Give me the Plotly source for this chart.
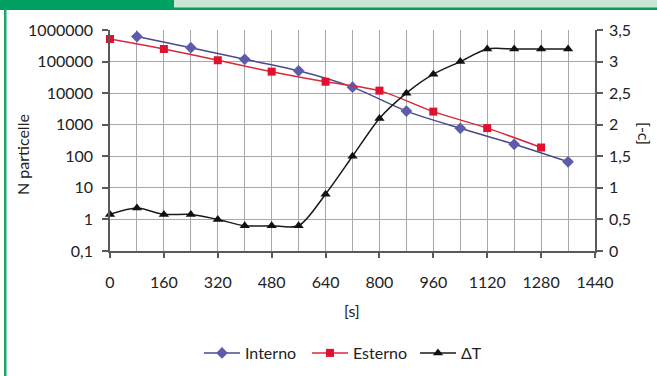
import plotly.graph_objects as go

# ---- data ----
x_interno = [80, 240, 400, 560, 720, 880, 1040, 1200, 1360]
interno = [620000, 275000, 118000, 51000, 15500, 2700, 770, 240, 67]

x_esterno = [0, 160, 320, 480, 640, 800, 960, 1120, 1280]
esterno = [520000, 250000, 110000, 48000, 23000, 12000, 2600, 780, 190]

x_dt = [0, 80, 160, 240, 320, 400, 480, 560, 640, 720, 800, 880, 960, 1040, 1120, 1200, 1280, 1360]
delta_t = [0.58, 0.68, 0.58, 0.58, 0.50, 0.40, 0.40, 0.40, 0.90, 1.50, 2.10, 2.50, 2.80, 3.00, 3.20, 3.20, 3.20, 3.20]

x_ticks = [0, 160, 320, 480, 640, 800, 960, 1120, 1280, 1440]
y_ticks = [0.1, 1, 10, 100, 1000, 10000, 100000, 1000000]
y_tick_text = ["0,1", "1", "10", "100", "1000", "10000", "100000", "1000000"]
y2_ticks = [0, 0.5, 1, 1.5, 2, 2.5, 3, 3.5]
y2_tick_text = ["0", "0,5", "1", "1,5", "2", "2,5", "3", "3,5"]

W, H = 657, 376
L, R, T, B = 110, 595, 30, 251


def px(xp):
    return (xp - L) / (R - L)


def py(yp):
    return (B - yp) / (B - T)


FONT = "Lato"
GRID = "#a8a8a8"
AXIS = "#5a5a5a"

fig = go.Figure()
fig.add_trace(go.Scatter(
    x=x_interno, y=interno, name="Interno", mode="lines+markers",
    line=dict(color="#4a4a8c", width=1.5, shape="spline", smoothing=0.8),
    marker=dict(symbol="diamond", size=9, color="#5c5cab"),
    cliponaxis=False))
fig.add_trace(go.Scatter(
    x=x_esterno, y=esterno, name="Esterno", mode="lines+markers",
    line=dict(color="#d8283c", width=1.5, shape="spline", smoothing=0.8),
    marker=dict(symbol="square", size=8, color="#e0102f"),
    cliponaxis=False))
fig.add_trace(go.Scatter(
    x=x_dt, y=delta_t, name="ΔT", mode="lines+markers", yaxis="y2",
    line=dict(color="#1a1a1a", width=1.5, shape="spline", smoothing=0.8),
    marker=dict(symbol="triangle-up", size=9, color="#111111"),
    cliponaxis=False))

fig.update_layout(
    width=W, height=H,
    margin=dict(l=L, r=W - R, t=T, b=H - B, pad=0, autoexpand=False),
    paper_bgcolor="white", plot_bgcolor="white",
    font=dict(family=FONT, size=16, color="#222222"),
    showlegend=True,
    legend=dict(orientation="h", x=(203 - 4) / W, xanchor="left", xref="container",
                y=(H - 353) / H, yanchor="middle", yref="container",
                font=dict(size=16), itemwidth=36, tracegroupgap=0,
                entrywidth=57, entrywidthmode="pixels"),
    xaxis=dict(range=[0, 1440], tickvals=x_ticks, ticks="outside", ticklen=5,
               tickcolor=AXIS, tickwidth=1.5, automargin=False,
               showline=True, linecolor=AXIS, linewidth=1.5,
               showgrid=True, gridcolor=GRID, gridwidth=1.3,
               minor=dict(dtick=80, tick0=0, showgrid=True, gridcolor=GRID, gridwidth=1.3),
               ticklabelstandoff=11, zeroline=False),
    yaxis=dict(type="log", range=[-1, 6], tickvals=y_ticks, ticktext=y_tick_text,
               ticks="outside", ticklen=6, tickcolor=AXIS, tickwidth=1.5, automargin=False,
               showline=True, linecolor=AXIS, linewidth=1.5,
               showgrid=True, gridcolor=GRID, gridwidth=1.3,
               ticklabelstandoff=6, zeroline=False),
    yaxis2=dict(overlaying="y", side="right", range=[0, 3.5], tickvals=y2_ticks,
                ticktext=y2_tick_text, ticks="outside", ticklen=6, tickcolor=AXIS,
                tickwidth=1.5, showline=True, linecolor=AXIS, linewidth=1.5, automargin=False,
                showgrid=False, zeroline=False, ticklabelstandoff=3),
)

# axis titles
fig.add_annotation(text="N particelle", x=px(22), y=py(155), xref="paper", yref="paper",
                   xanchor="center", yanchor="middle",
                   showarrow=False, textangle=-90, font=dict(size=16, family=FONT))
fig.add_annotation(text="[s]", x=px(352), y=py(310), xref="paper", yref="paper",
                   xanchor="center", yanchor="middle",
                   showarrow=False, font=dict(size=16, family=FONT))
fig.add_annotation(text="[-c]", x=px(645), y=py(133), xref="paper", yref="paper",
                   xanchor="center", yanchor="middle",
                   showarrow=False, textangle=90, font=dict(size=16, family=FONT))

# decorative frame
shapes = [
    dict(type="rect", x0=px(0), x1=px(174), y0=py(10), y1=py(0), fillcolor="#00a062", line_width=0),
    dict(type="rect", x0=px(174), x1=px(657), y0=py(8), y1=py(0), fillcolor="#c8e6d3", line_width=0),
    dict(type="rect", x0=px(174), x1=px(657), y0=py(10), y1=py(7.5), fillcolor="#0a9e58", line_width=0),
    dict(type="rect", x0=px(4), x1=px(6.5), y0=py(376), y1=py(9), fillcolor="#19a86a", line_width=0),
]
for s in shapes:
    s.update(xref="paper", yref="paper", layer="above")
    fig.add_shape(**s)

fig.write_html("out.html", config={"displayModeBar": False},
               post_script="document.body.style.margin='0px';document.body.style.overflow='hidden';")
